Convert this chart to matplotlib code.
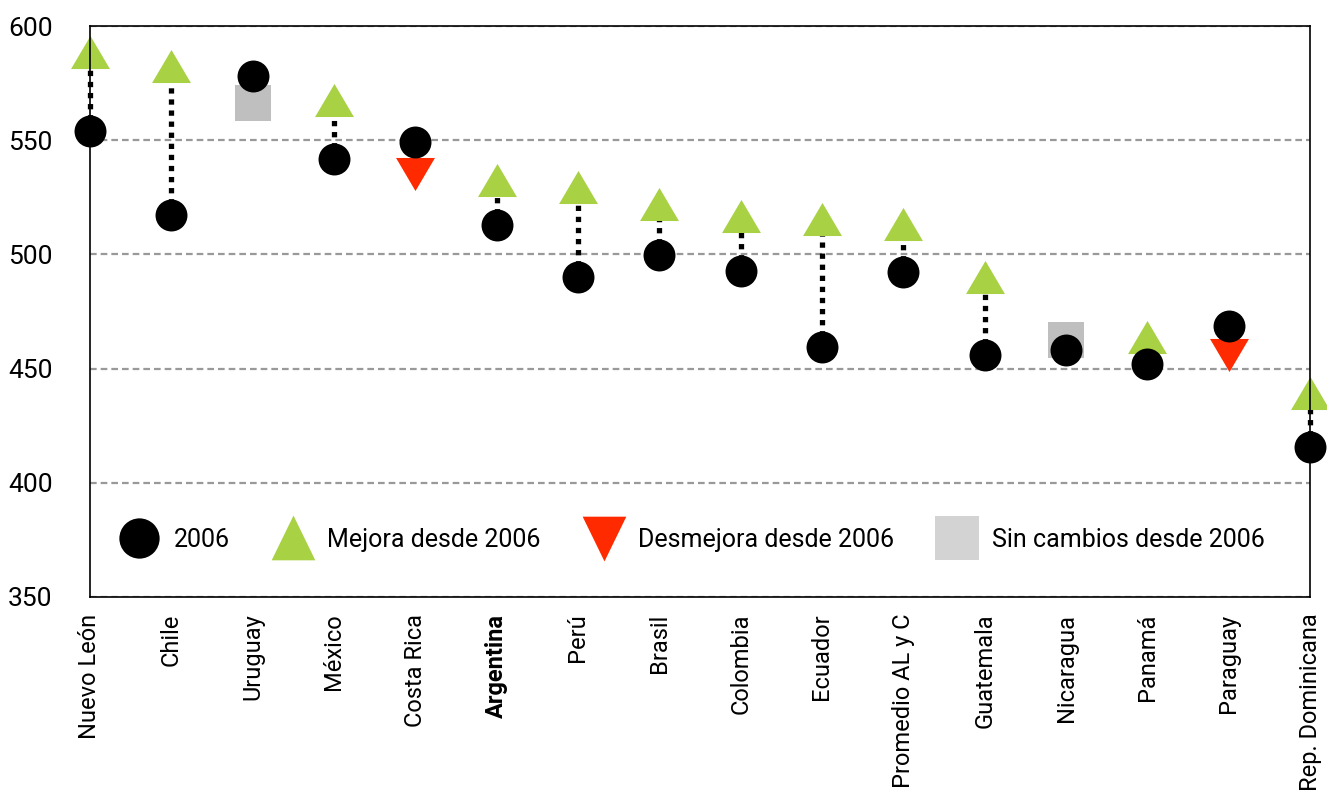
import numpy as np
import matplotlib
matplotlib.use("Agg")
import matplotlib.pyplot as plt
from matplotlib.lines import Line2D

plt.rcParams['font.family'] = ['Roboto', 'DejaVu Sans']

# Data
paises = ['Nuevo León', 'Chile', 'Uruguay', 'México', 'Costa Rica', 'Argentina',
          'Perú', 'Brasil', 'Colombia', 'Ecuador', 'Promedio AL y C', 'Guatemala',
          'Nicaragua', 'Panamá', 'Paraguay', 'Rep. Dominicana']
v2006 = [554.0, 517.3, 578.2, 541.6, 549.3, 513.0, 490.2, 499.6, 492.7, 459.6,
         492.2, 456.0, 458.1, 451.9, 468.7, 415.8]
v_actual = [588.8, 582.6, 566.4, 567.8, 535.3, 532.4, 529.5, 521.9, 517.0, 515.4,
            513.5, 490.2, 462.4, 463.8, 456.0, 439.2]
estado = ['mejora', 'mejora', 'igual', 'mejora', 'desmejora', 'mejora',
          'mejora', 'mejora', 'mejora', 'mejora', 'mejora', 'mejora',
          'igual', 'mejora', 'desmejora', 'mejora']
y_ticks = [350, 400, 450, 500, 550, 600]

verde = '#A8D144'
rojo = '#FF2A00'
gris = '#BFBFBF'
gris_leyenda = '#D3D3D3'

tri_up = [(-1, -0.85), (1, -0.85), (0, 0.85)]
tri_down = [(-1, 0.85), (1, 0.85), (0, -0.85)]

x = np.arange(len(paises))
v2006 = np.array(v2006)
v_actual = np.array(v_actual)
estado = np.array(estado)

fig = plt.figure(figsize=(13.27, 7.97), dpi=100)
ax = fig.add_axes([90 / 1327, 1 - 597 / 797, 1220 / 1327, 571 / 797])

# dotted connectors for improvements
m = estado == 'mejora'
ax.vlines(x[m], v2006[m], v_actual[m], colors='black', linewidth=3.8,
          linestyles=(0, (1.0, 1.1)), zorder=2, clip_on=False)

ax.plot(x[m], v_actual[m], linestyle='none', marker=tri_up, markersize=28,
        color=verde, markeredgewidth=0, zorder=3, clip_on=False)
d = estado == 'desmejora'
ax.plot(x[d], v_actual[d], linestyle='none', marker=tri_down, markersize=28,
        color=rojo, markeredgewidth=0, zorder=3, clip_on=False)
s = estado == 'igual'
ax.plot(x[s], v_actual[s], linestyle='none', marker='s', markersize=26,
        color=gris, markeredgewidth=0, zorder=3, clip_on=False)
ax.plot(x, v2006, linestyle='none', marker='o', markersize=23,
        color='black', markeredgewidth=0, zorder=4, clip_on=False)

ax.set_xlim(0, len(paises) - 1)
ax.set_ylim(350, 600)
ax.set_yticks(y_ticks)
ax.set_xticks(x)
ax.set_xticklabels(paises, rotation=90)
for lbl in ax.get_xticklabels():
    if lbl.get_text() == 'Argentina':
        lbl.set_fontweight('bold')
ax.tick_params(axis='both', length=0)
ax.tick_params(axis='y', pad=27, labelsize=19)
ax.tick_params(axis='x', pad=12, labelsize=17)

ax.grid(axis='y', color='#999999', linewidth=1.6, linestyle=(0, (3, 1.8)), zorder=1)
ax.set_axisbelow(True)
for sp in ax.spines.values():
    sp.set_linewidth(1.2)
    sp.set_color('black')
    sp.set_zorder(5)

handles = [
    Line2D([], [], linestyle='none', marker='o', markersize=29, color='black', markeredgewidth=0),
    Line2D([], [], linestyle='none', marker=[(-1, -1), (1, -1), (0, 1.05)], markersize=33,
           color=verde, markeredgewidth=0),
    Line2D([], [], linestyle='none', marker=[(-1, 1), (1, 1), (0, -1.05)], markersize=33,
           color=rojo, markeredgewidth=0),
    Line2D([], [], linestyle='none', marker='s', markersize=31, color=gris_leyenda, markeredgewidth=0),
]
labels = ['2006', 'Mejora desde 2006', 'Desmejora desde 2006', 'Sin cambios desde 2006']
ax.legend(handles, labels, ncol=4, loc='center', bbox_to_anchor=(0.493, 0.1),
          frameon=False, fontsize=18, handletextpad=0.55, columnspacing=1.7,
          handlelength=1.65)

fig.savefig('out.png', dpi=100)
